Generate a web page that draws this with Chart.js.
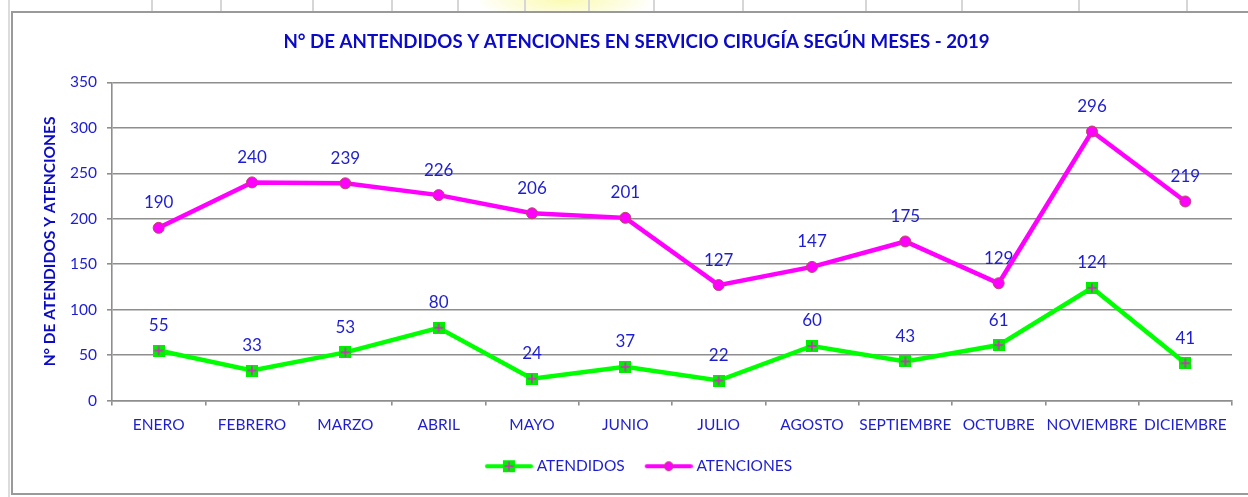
<!DOCTYPE html>
<html lang="es">
  <head>
    <meta charset="UTF-8" />
    <title>Servicio Cirugía 2019</title>
    <script src="https://cdn.jsdelivr.net/npm/chart.js"></script>
    <style>
      html, body { margin: 0; padding: 0; background: #fff; }
      body { width: 1248px; height: 497px; position: relative; overflow: hidden; font-family: Lato, sans-serif; }
      .cell-line { position: absolute; top: 0; width: 2px; height: 11px; background: #d6d6d6; }
      .watermark { position: absolute; left: 480px; top: -20px; width: 170px; height: 40px;
        background: radial-gradient(ellipse at center, rgba(250,250,160,0.8) 0%, rgba(250,250,180,0.45) 45%, rgba(255,255,255,0) 75%); }
      .side-line { position: absolute; left: 8px; top: 0; width: 2px; height: 497px; background: #dcdcdc; }
      .frame { position: absolute; left: 11px; top: 11px; width: 1300px; height: 480px;
        border-top: 2px solid #9a9a9a; border-left: 2px solid #9a9a9a; border-bottom: 2px solid #9a9a9a; background: #fff; }
      .chart-box { position: absolute; left: 0; top: 0; width: 1235px; height: 480px; }
    </style>
  </head>
  <body>
    <div class="watermark"></div>
    <div class="side-line"></div>
    <div class="cell-line" style="left:151px"></div>
    <div class="cell-line" style="left:220px"></div>
    <div class="cell-line" style="left:312px"></div>
    <div class="cell-line" style="left:391px"></div>
    <div class="cell-line" style="left:457px"></div>
    <div class="cell-line" style="left:524px"></div>
    <div class="cell-line" style="left:588px"></div>
    <div class="cell-line" style="left:653px"></div>
    <div class="cell-line" style="left:742px"></div>
    <div class="cell-line" style="left:865px"></div>
    <div class="cell-line" style="left:961px"></div>
    <div class="cell-line" style="left:1078px"></div>
    <div class="cell-line" style="left:1186px"></div>

    <div class="frame">
      <div class="chart-box"><canvas id="cirugiaChart"></canvas></div>
    </div>

    <script>
      // datos del grafico
      const meses = ['ENERO', 'FEBRERO', 'MARZO', 'ABRIL', 'MAYO', 'JUNIO', 'JULIO', 'AGOSTO', 'SEPTIEMBRE', 'OCTUBRE', 'NOVIEMBRE', 'DICIEMBRE'];
      const atendidos = [55, 33, 53, 80, 24, 37, 22, 60, 43, 61, 124, 41];
      const atenciones = [190, 240, 239, 226, 206, 201, 127, 147, 175, 129, 296, 219];
      const yTicks = [0, 50, 100, 150, 200, 250, 300, 350];

      const BLUE = '#1e1ed0';
      const GRID = '#8e8e8e';
      const FONT = 'Lato, "Open Sans", sans-serif';

      // marcador cuadrado verde con cruz magenta
      function squareMarker() {
        const c = document.createElement('canvas');
        c.width = 12; c.height = 12;
        const g = c.getContext('2d');
        g.fillStyle = '#00ee00';
        g.fillRect(0, 0, 12, 12);
        g.strokeStyle = '#e020d0';
        g.lineWidth = 1.5;
        g.beginPath();
        g.moveTo(6, 1.5); g.lineTo(6, 10.5);
        g.moveTo(1.5, 6); g.lineTo(10.5, 6);
        g.stroke();
        return c;
      }

      // muestra de leyenda: linea + marcador (un poco desplazada a la derecha)
      function legendSample(color, kind) {
        const c = document.createElement('canvas');
        c.width = 56; c.height = 14;
        const g = c.getContext('2d');
        g.strokeStyle = color;
        g.lineWidth = 4;
        g.lineCap = 'round';
        g.beginPath(); g.moveTo(10, 7); g.lineTo(54, 7); g.stroke();
        if (kind === 'square') {
          g.drawImage(squareMarker(), 26, 1);
        } else {
          g.fillStyle = '#ff00ff';
          g.strokeStyle = '#b84a60';
          g.lineWidth = 1;
          g.beginPath(); g.arc(32, 7, 4.5, 0, Math.PI * 2); g.fill(); g.stroke();
        }
        return c;
      }

      const valueLabels = {
        id: 'valueLabels',
        afterDatasetsDraw(chart) {
          const ctx = chart.ctx;
          ctx.save();
          ctx.fillStyle = BLUE;
          ctx.font = '17px ' + FONT;
          ctx.textAlign = 'center';
          ctx.textBaseline = 'middle';
          chart.data.datasets.forEach((ds, i) => {
            chart.getDatasetMeta(i).data.forEach((pt, j) => {
              ctx.fillText(String(ds.data[j]), pt.x, pt.y - 25);
            });
          });
          ctx.restore();
        }
      };

      const ctx = document.getElementById('cirugiaChart');
      new Chart(ctx, {
        type: 'line',
        data: {
          labels: meses,
          datasets: [
            {
              label: 'ATENDIDOS',
              data: atendidos,
              borderColor: '#00ff00',
              borderWidth: 4.5,
              pointStyle: squareMarker(),
              legendSample: legendSample('#00ff00', 'square'),
              tension: 0
            },
            {
              label: 'ATENCIONES',
              data: atenciones,
              borderColor: '#ff00ff',
              borderWidth: 4.5,
              pointStyle: 'circle',
              pointRadius: 5.5,
              pointBackgroundColor: '#ff00ff',
              pointBorderColor: '#b84a60',
              pointBorderWidth: 1,
              legendSample: legendSample('#ff00ff', 'circle'),
              tension: 0
            }
          ]
        },
        options: {
          responsive: true,
          maintainAspectRatio: false,
          animation: false,
          events: [],
          layout: { padding: { left: 28, right: 16, top: 0, bottom: 9 } },
          scales: {
            x: {
              offset: true,
              grid: { offset: true, drawOnChartArea: false, color: GRID, lineWidth: 1.6, tickLength: 5 },
              border: { color: GRID, width: 1.6 },
              ticks: { color: BLUE, font: { family: FONT, size: 15.5 }, padding: 10, maxRotation: 0, autoSkip: false },
              afterFit(scale) { scale.height = 42; }
            },
            y: {
              min: 0,
              max: 350,
              afterBuildTicks(scale) { scale.ticks = yTicks.map(v => ({ value: v })); },
              grid: { color: GRID, lineWidth: 1.6, tickLength: 5 },
              border: { color: GRID, width: 1.6 },
              ticks: { color: BLUE, font: { family: FONT, size: 15.5 }, padding: 10 },
              title: {
                display: true,
                text: 'N° DE ATENDIDOS Y ATENCIONES',
                color: '#0a0ac8',
                font: { family: FONT, size: 15.5, weight: 'bold' },
                padding: { top: 0, bottom: 0 }
              },
              afterFit(scale) { scale.width = 71; }
            }
          },
          plugins: {
            title: {
              display: true,
              text: 'N° DE ANTENDIDOS Y ATENCIONES EN SERVICIO CIRUGÍA SEGÚN MESES - 2019',
              color: '#0a0ac8',
              font: { family: FONT, size: 18.7, weight: 'bold' },
              padding: { top: 18, bottom: 29 }
            },
            legend: {
              position: 'bottom',
              labels: {
                color: BLUE,
                font: { family: FONT, size: 15.5 },
                usePointStyle: true,
                pointStyleWidth: 48,
                padding: 16,
                generateLabels(chart) {
                  return chart.data.datasets.map((ds, i) => ({
                    text: ds.label,
                    pointStyle: ds.legendSample,
                    fontColor: BLUE,
                    strokeStyle: 'transparent',
                    fillStyle: 'transparent',
                    lineWidth: 0,
                    datasetIndex: i
                  }));
                }
              }
            },
            tooltip: { enabled: false }
          }
        },
        plugins: [valueLabels]
      });
    </script>
  </body>
</html>
